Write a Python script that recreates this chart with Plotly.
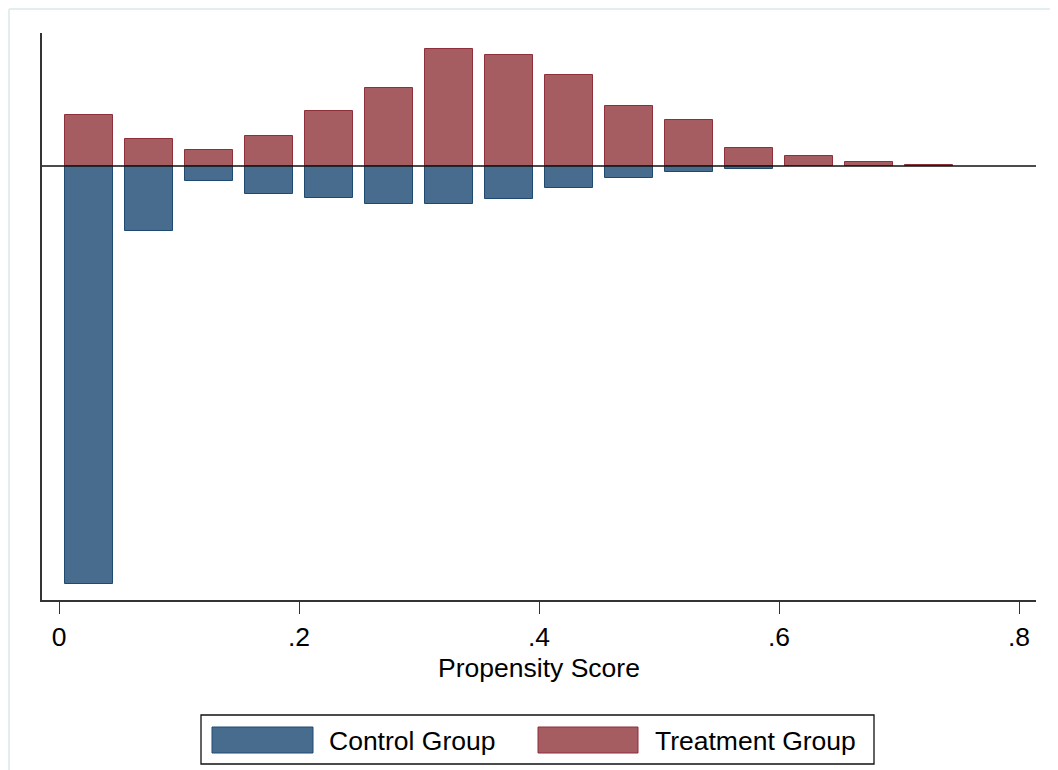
import plotly.graph_objects as go

# ---- data (density of propensity score, bins of width 0.05) ----
bin_centers = [0.025, 0.075, 0.125, 0.175, 0.225, 0.275, 0.325, 0.375,
               0.425, 0.475, 0.525, 0.575, 0.625, 0.675, 0.725]
treatment_density = [1.43, 0.75, 0.44, 0.84, 1.54, 2.18, 3.27, 3.12,
                     2.55, 1.69, 1.28, 0.50, 0.29, 0.11, 0.03]
control_density = [11.71, 1.83, 0.43, 0.79, 0.90, 1.06, 1.06, 0.93,
                   0.61, 0.34, 0.16, 0.09, 0.0, 0.0, 0.0]
tick_vals = [0, 0.2, 0.4, 0.6, 0.8]
tick_text = ["0", ".2", ".4", ".6", ".8"]
series_names = ["Control Group", "Treatment Group"]
x_title = "Propensity Score"

# ---- styling ----
OFF = 8  # default body margin of the html page
W, H = 1058 - OFF, 770 - OFF
ML, MT = 42 - OFF, 33 - OFF
MR = W - (1036 - OFF)
MB = H - (600 - OFF)
BLUE_FILL, BLUE_LINE = "#486C8D", "#1E4A72"
RED_FILL, RED_LINE = "#A55D61", "#8E2F3A"
FONT = "Liberation Sans, Arial, sans-serif"
FS = 26.5

plot_w = W - ML - MR
plot_h = H - MT - MB


def px_x(p):
    """screen pixel (reference) -> paper x"""
    return (p - OFF - ML) / plot_w


def px_y(p):
    """screen pixel (reference) -> paper y"""
    return (H - MB - (p - OFF)) / plot_h


fig = go.Figure()
fig.add_trace(go.Bar(
    x=bin_centers, y=[-v for v in control_density], width=0.04,
    name=series_names[0], marker=dict(color=BLUE_FILL, line=dict(color=BLUE_LINE, width=1)),
    showlegend=False,
))
fig.add_trace(go.Bar(
    x=bin_centers, y=treatment_density, width=0.04,
    name=series_names[1], marker=dict(color=RED_FILL, line=dict(color=RED_LINE, width=1)),
    showlegend=False,
))

shapes = []
# zero line
shapes.append(dict(type="line", xref="paper", yref="y", x0=0, x1=1, y0=0, y1=0,
                   line=dict(color="#111111", width=1.5), layer="above"))
# outer graph-region frame (light): only top and left edges are visible
FRAME = "#E4EEF0"
shapes.append(dict(type="line", xref="paper", yref="paper",
                   x0=px_x(9), x1=px_x(1058), y0=px_y(9), y1=px_y(9),
                   line=dict(color=FRAME, width=2), layer="below"))
shapes.append(dict(type="line", xref="paper", yref="paper",
                   x0=px_x(9), x1=px_x(9), y0=px_y(9), y1=px_y(770),
                   line=dict(color=FRAME, width=2), layer="below"))
# legend box
shapes.append(dict(type="rect", xref="paper", yref="paper",
                   x0=px_x(201), x1=px_x(874), y0=px_y(764), y1=px_y(715),
                   line=dict(color="#111111", width=1.3), fillcolor="white"))
# legend keys
shapes.append(dict(type="rect", xref="paper", yref="paper",
                   x0=px_x(212), x1=px_x(313), y0=px_y(753), y1=px_y(727),
                   line=dict(color=BLUE_LINE, width=1), fillcolor=BLUE_FILL))
shapes.append(dict(type="rect", xref="paper", yref="paper",
                   x0=px_x(538), x1=px_x(638), y0=px_y(753), y1=px_y(727),
                   line=dict(color=RED_LINE, width=1), fillcolor=RED_FILL))

annotations = [
    dict(text=series_names[0], xref="paper", yref="paper", x=px_x(327), y=px_y(741),
         xanchor="left", yanchor="middle", showarrow=False,
         font=dict(family=FONT, size=FS, color="#000000")),
    dict(text=series_names[1], xref="paper", yref="paper", x=px_x(653), y=px_y(741),
         xanchor="left", yanchor="middle", showarrow=False,
         font=dict(family=FONT, size=FS, color="#000000")),
]

fig.update_layout(
    width=W, height=H,
    margin=dict(l=ML, r=MR, t=MT, b=MB, pad=0),
    paper_bgcolor="white", plot_bgcolor="white",
    barmode="overlay", bargap=0,
    font=dict(family=FONT, size=FS, color="#000000"),
    shapes=shapes, annotations=annotations,
    xaxis=dict(
        range=[-17 / 1200, (1036 - 59) / 1200],
        tickvals=tick_vals, ticktext=tick_text,
        ticks="outside", ticklen=12, tickwidth=1.3, tickcolor="#333333",
        showline=True, linecolor="#333333", linewidth=1.5,
        showgrid=False, zeroline=False,
        tickfont=dict(family=FONT, size=FS, color="#000000"),
        title=dict(text=x_title, font=dict(family=FONT, size=FS, color="#000000"), standoff=8),
    ),
    yaxis=dict(
        range=[-12.157, 3.725],
        showticklabels=False, ticks="",
        showline=True, linecolor="#333333", linewidth=1.5,
        showgrid=False, zeroline=False,
    ),
)

fig.write_html("out.html")
